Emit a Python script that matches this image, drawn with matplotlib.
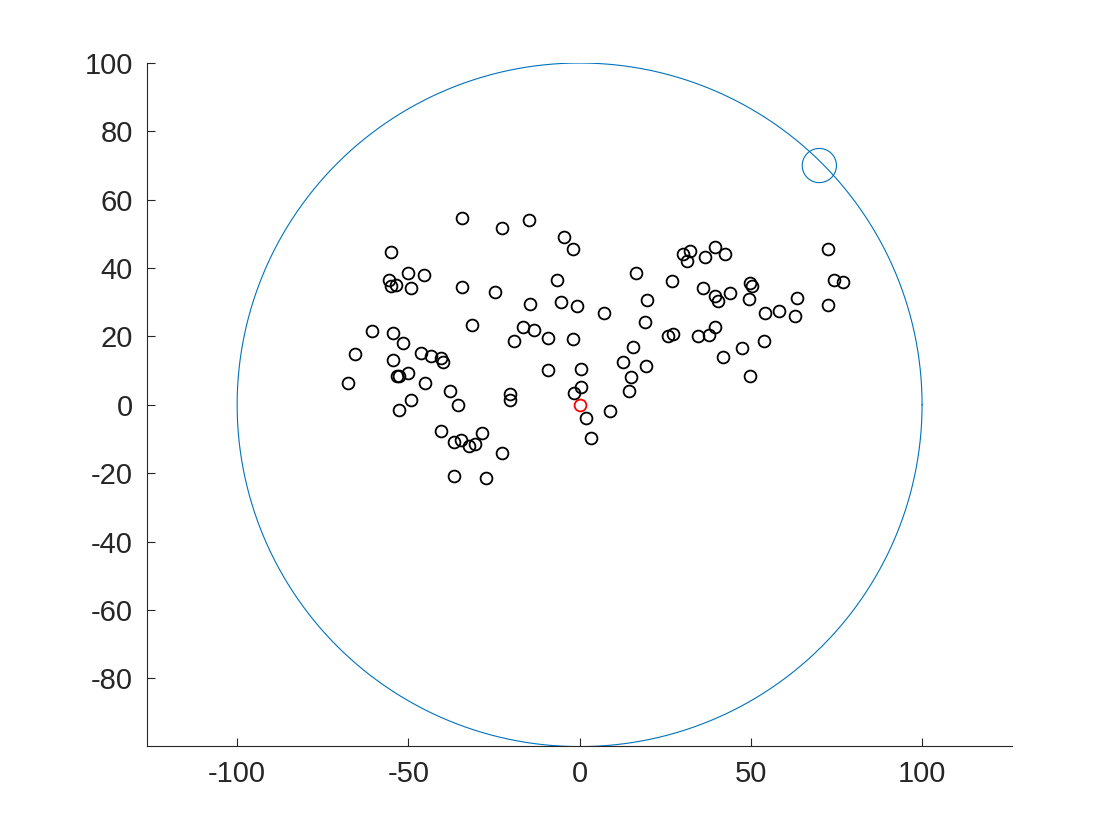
import numpy as np
import matplotlib
matplotlib.use("Agg")
import matplotlib.pyplot as plt

# scattered points (x, y)
pts_x = [-67.7, -65.7, -60.7, -55.2, -55.8, -55.2, -53.7, -54.6, -54.6, -53.4,
         -52.8, -52.6, -51.7, -50.2, -50.2, -49.3, -49.1, -46.4, -45.5, -45.0,
         -43.5, -40.6, -40.6, -40.0, -37.7, -36.8, -36.8, -35.6, -34.2, -34.2,
         -34.5, -32.4, -31.5, -30.4, -28.6, -27.2, -24.8, -22.8, -22.8, -20.4,
         -20.4, -19.3, -16.4, -14.9, -14.6, -13.4, -9.3, -9.1, -6.7, -5.5,
         -4.7, -2.0, -2.0, -0.9, -1.5, 0.3, 0.3, 1.8, 3.2, 7.0,
         8.8, 12.8, 14.3, 14.9, 15.5, 16.6, 19.0, 19.6, 19.3, 25.7,
         26.9, 27.4, 30.1, 31.5, 32.1, 34.5, 35.9, 36.5, 37.7, 39.4,
         39.4, 39.4, 40.3, 41.8, 42.6, 43.8, 47.3, 49.6, 49.9, 50.2,
         49.9, 54.0, 53.7, 58.1, 63.4, 62.8, 72.4, 72.4, 74.2, 76.8]
pts_y = [6.4, 14.9, 21.6, 44.7, 36.5, 34.8, 35.1, 21.1, 13.2, 8.5,
         8.5, -1.5, 18.1, 9.4, 38.6, 34.2, 1.5, 15.2, 38.0, 6.4,
         14.3, -7.6, 13.7, 12.6, 4.1, -10.8, -20.8, 0.0, 54.7, 34.5,
         -10.2, -12.0, 23.4, -11.4, -8.2, -21.3, 33.0, 51.8, -14.0, 3.2,
         1.5, 18.7, 22.8, 54.1, 29.5, 21.9, 19.6, 10.2, 36.5, 30.1,
         49.1, 45.6, 19.3, 28.9, 3.5, 10.5, 5.3, -3.8, -9.6, 26.9,
         -1.8, 12.6, 4.1, 8.2, 17.0, 38.6, 24.3, 30.7, 11.4, 20.2,
         36.3, 20.8, 44.2, 42.1, 45.0, 20.2, 34.2, 43.3, 20.5, 46.2,
         31.9, 22.8, 30.4, 14.0, 44.2, 32.7, 16.7, 31.0, 35.7, 34.8,
         8.5, 26.9, 18.7, 27.5, 31.3, 26.0, 45.6, 29.2, 36.5, 36.0]

origin = [0.0, 0.0]
big_radius = 100.0
small_center = [70.0, 70.0]
small_radius = 5.0

xticks = [-100, -50, 0, 50, 100]
yticks = [-80, -60, -40, -20, 0, 20, 40, 60, 80, 100]

plt.rcParams['font.family'] = ['Liberation Sans', 'DejaVu Sans']
fig = plt.figure(figsize=(11.2, 8.4), dpi=100)
ax = fig.add_axes([0.131, 0.112, 0.773, 0.813])

t = np.linspace(0, 2 * np.pi, 721)
blue = '#0072BD'
ax.plot(origin[0] + big_radius * np.cos(t), origin[1] + big_radius * np.sin(t),
        color=blue, lw=0.8, solid_joinstyle='round', solid_capstyle='round')
ax.plot(small_center[0] + small_radius * np.cos(t), small_center[1] + small_radius * np.sin(t),
        color=blue, lw=0.8, solid_joinstyle='round', solid_capstyle='round')

ax.plot(pts_x, pts_y, 'o', mfc='none', mec='black', ms=8.5, mew=1.3, ls='none')
ax.plot([origin[0]], [origin[1]], 'o', mfc='none', mec='red', ms=8.5, mew=1.3)

ax.set_xlim(-126.4, 126.4)
ax.set_ylim(-99.8, 100)
ax.set_xticks(xticks)
ax.set_yticks(yticks)
ax.set_xticklabels([str(v) for v in xticks])
ax.set_yticklabels([str(v) for v in yticks])

for s in ['top', 'right']:
    ax.spines[s].set_visible(False)
for s in ['left', 'bottom']:
    ax.spines[s].set_color('#262626')
    ax.spines[s].set_linewidth(0.8)
ax.tick_params(direction='in', length=6, width=0.8, colors='#262626',
               labelsize=21, pad=10)

fig.savefig('out.png', dpi=100)
